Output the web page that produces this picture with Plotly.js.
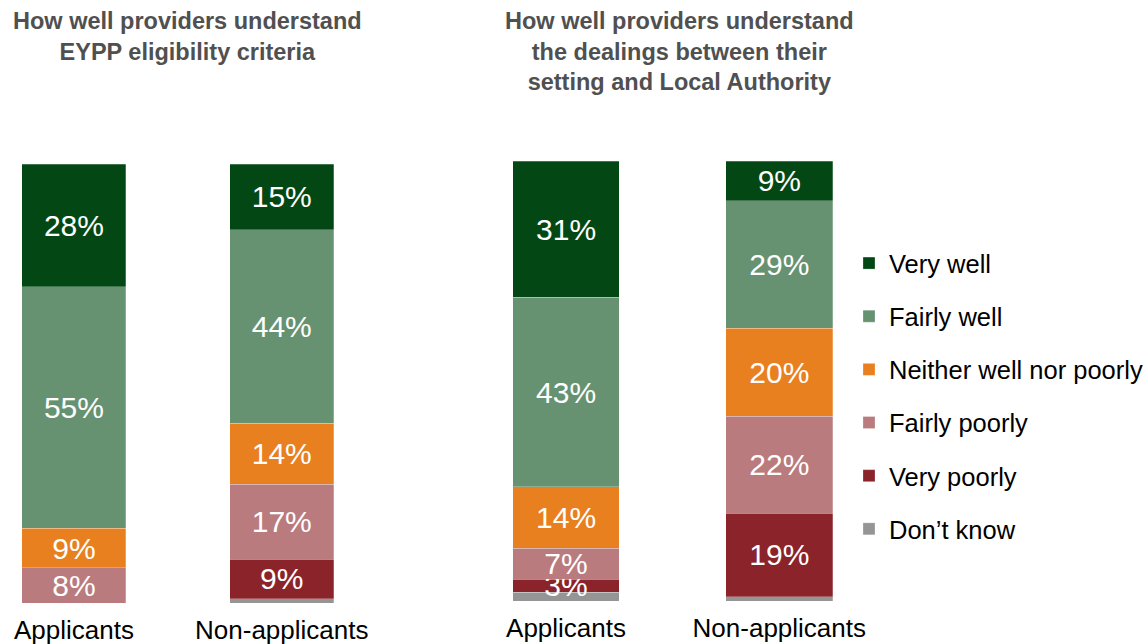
<!DOCTYPE html>
<html>
<head>
<meta charset="utf-8">
<script src="https://cdn.plot.ly/plotly-3.0.1.min.js"></script>
<style>html,body{margin:0;padding:0;background:#fff;}#chart{width:1148px;height:644px;}</style>
</head>
<body>
<div id="chart"></div>
<script>
// Categories (groups of respondents)
const groups = ["Applicants", "Non-applicants"];

// Response levels, bottom of stack first
const levels = ["Don\u2019t know", "Very poorly", "Fairly poorly", "Neither well nor poorly", "Fairly well", "Very well"];
const colors = ["#959595", "#8A242A", "#B97B7D", "#E8801F", "#669271", "#034814"];

// Chart 1: How well providers understand EYPP eligibility criteria (%)
const eligibility = {
  "Very well":               [28, 15],
  "Fairly well":             [55, 44],
  "Neither well nor poorly": [9, 14],
  "Fairly poorly":           [8, 17],
  "Very poorly":             [0, 9],
  "Don\u2019t know":         [0, 1]
};

// Chart 2: How well providers understand the dealings between their setting and LA (%)
const dealings = {
  "Very well":               [31, 9],
  "Fairly well":             [43, 29],
  "Neither well nor poorly": [14, 20],
  "Fairly poorly":           [7, 22],
  "Very poorly":             [3, 19],
  "Don\u2019t know":         [2, 1]
};

const title1 = "How well providers understand<br>EYPP eligibility criteria";
const title2 = "How well providers understand<br>the dealings between their<br>setting and Local Authority";

const FONT = "Liberation Sans, Arial, sans-serif";
const W = 1148, H = 644;

function labelOf(v){ return v >= 3 ? v + "%" : ""; }

const traces = [];
levels.forEach((lvl, i) => {
  [[eligibility, "x", "y", true], [dealings, "x2", "y2", false]].forEach(([src, xa, ya, show]) => {
    const vals = src[lvl];
    traces.push({
      type: "bar",
      name: lvl,
      legendgroup: lvl,
      legendrank: levels.length - i,
      showlegend: show,
      x: groups,
      y: vals,
      xaxis: xa,
      yaxis: ya,
      text: vals.map(labelOf),
      textposition: "inside",
      insidetextanchor: "middle",
      constraintext: "none",
      textfont: {family: FONT, size: 30, color: "#ffffff"},
      marker: {color: colors[i], line: {color: "rgba(255,255,255,0.5)", width: 0.5}},
      hoverinfo: "name+y"
    });
  });
});

const xAxisCommon = {
  type: "category",
  range: [-0.35, 1.35],
  showgrid: false, zeroline: false, showline: false,
  ticks: "",
  ticklabelstandoff: 9,
  tickfont: {family: FONT, size: 26, color: "#000000"},
  fixedrange: true
};
const yAxisCommon = {
  range: [0, 100],
  visible: false,
  fixedrange: true
};

const layout = {
  width: W, height: H,
  margin: {l: 0, r: 0, t: 0, b: 0, pad: 0},
  paper_bgcolor: "#ffffff",
  plot_bgcolor: "#ffffff",
  barmode: "stack",
  bargap: 0.5,
  font: {family: FONT},
  xaxis: Object.assign({}, xAxisCommon, {domain: [1.2 / W, 354.8 / W], anchor: "y"}),
  yaxis: Object.assign({}, yAxisCommon, {domain: [1 - 603 / H, 1 - 164 / H], anchor: "x"}),
  xaxis2: Object.assign({}, xAxisCommon, {domain: [491.8 / W, 854.7 / W], anchor: "y2"}),
  yaxis2: Object.assign({}, yAxisCommon, {domain: [1 - 601 / H, 1 - 161 / H], anchor: "x2"}),
  legend: {
    x: 850 / W, xanchor: "left",
    y: 1 - 240 / H, yanchor: "top",
    traceorder: "grouped",
    font: {family: FONT, size: 25.5, color: "#000000"},
    tracegroupgap: 17,
    bgcolor: "rgba(0,0,0,0)"
  },
  annotations: [
    {text: "<b>" + title1 + "</b>", xref: "paper", yref: "paper", x: 188 / W, y: 1 - 6 / H,
     xanchor: "center", yanchor: "top", showarrow: false, align: "center",
     font: {family: FONT, size: 23.5, color: "#505050"}},
    {text: "<b>" + title2 + "</b>", xref: "paper", yref: "paper", x: 680 / W, y: 1 - 6 / H,
     xanchor: "center", yanchor: "top", showarrow: false, align: "center",
     font: {family: FONT, size: 23.5, color: "#505050"}}
  ],
  showlegend: true
};

Plotly.newPlot("chart", traces, layout, {displayModeBar: false, staticPlot: true});
</script>
</body>
</html>
